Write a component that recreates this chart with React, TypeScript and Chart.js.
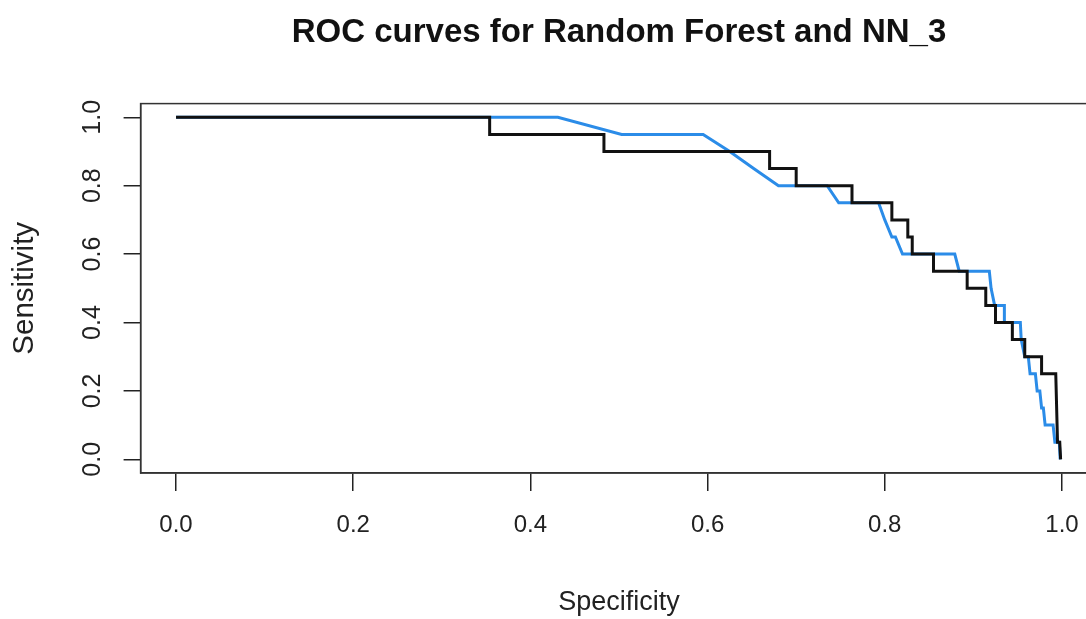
import React, { useEffect, useRef } from 'react';
import { Chart, registerables } from 'chart.js';

Chart.register(...registerables);

const chartTitle = 'ROC curves for Random Forest and NN_3';
const xAxisTitle = 'Specificity';
const yAxisTitle = 'Sensitivity';
const xTickValues = [0, 0.2, 0.4, 0.6, 0.8, 1.0];
const yTickValues = [0, 0.2, 0.4, 0.6, 0.8, 1.0];
const xTickLabels = ['0.0', '0.2', '0.4', '0.6', '0.8', '1.0'];
const yTickLabels = ['0.0', '0.2', '0.4', '0.6', '0.8', '1.0'];

// black curve
const blackSpec = [0, 0.354, 0.354, 0.483, 0.483, 0.67, 0.67, 0.7, 0.7, 0.763, 0.763, 0.808, 0.808, 0.826, 0.826, 0.831, 0.831, 0.855, 0.855, 0.893, 0.893, 0.914, 0.914, 0.925, 0.925, 0.944, 0.944, 0.958, 0.958, 0.977, 0.977, 0.993, 0.995, 0.9975, 0.9985];
const blackSens = [1.0, 1.0, 0.95, 0.95, 0.9, 0.9, 0.85, 0.85, 0.8, 0.8, 0.75, 0.75, 0.7, 0.7, 0.65, 0.65, 0.6, 0.6, 0.55, 0.55, 0.5, 0.5, 0.45, 0.45, 0.4, 0.4, 0.35, 0.35, 0.3, 0.3, 0.25, 0.25, 0.05, 0.05, 0.0];

// blue curve
const blueSpec = [0, 0.431, 0.503, 0.595, 0.625, 0.652, 0.68, 0.735, 0.748, 0.793, 0.8, 0.808, 0.812, 0.82, 0.879, 0.884, 0.918, 0.92, 0.924, 0.935, 0.935, 0.953, 0.954, 0.958, 0.962, 0.964, 0.97, 0.972, 0.975, 0.977, 0.979, 0.981, 0.99, 0.992, 0.997, 0.998];
const blueSens = [1.0, 1.0, 0.95, 0.95, 0.9, 0.85, 0.8, 0.8, 0.75, 0.75, 0.7, 0.65, 0.65, 0.6, 0.6, 0.55, 0.55, 0.5, 0.45, 0.45, 0.4, 0.4, 0.35, 0.3, 0.3, 0.25, 0.25, 0.2, 0.2, 0.15, 0.15, 0.1, 0.1, 0.05, 0.05, 0.0];

const FONT = "'Liberation Sans', Arial, Helvetica, sans-serif";

const boxPlugin = {
  id: 'rBox',
  beforeDatasetsDraw(chart: any) {
    const { ctx, chartArea: a } = chart;
    ctx.save();
    ctx.strokeStyle = '#333';
    ctx.lineWidth = 1.5;
    ctx.strokeRect(a.left, a.top, a.right - a.left, a.bottom - a.top);
    ctx.restore();
  },
};

export default function App() {
  const ref = useRef<HTMLCanvasElement | null>(null);

  useEffect(() => {
    document.body.style.margin = '0';
    const canvas = ref.current;
    if (!canvas) return;
    const chart = new Chart(canvas, {
      type: 'scatter',
      data: {
        datasets: [
          {
            label: 'black',
            data: blackSpec.map((x, i) => ({ x, y: blackSens[i] })),
            showLine: true,
            borderColor: '#111111',
            borderWidth: 3,
            pointRadius: 0,
            tension: 0,
            fill: false,
          },
          {
            label: 'blue',
            data: blueSpec.map((x, i) => ({ x, y: blueSens[i] })),
            showLine: true,
            borderColor: '#2b8ce8',
            borderWidth: 3,
            pointRadius: 0,
            tension: 0,
            fill: false,
          },
        ],
      },
      options: {
        responsive: false,
        animation: false,
        devicePixelRatio: 1,
        layout: { padding: { left: 0, top: 0, right: 12.6, bottom: 0 } },
        plugins: {
          legend: { display: false },
          tooltip: { enabled: false },
          title: {
            display: true,
            text: chartTitle,
            fullSize: false,
            color: '#111',
            font: { family: FONT, size: 33, weight: 'bold' },
            padding: { top: 13.2, bottom: 50.8 },
          },
        },
        scales: {
          x: {
            type: 'linear',
            min: -0.04,
            max: 1.04,
            afterBuildTicks: (s: any) => {
              s.ticks = xTickValues.map((v) => ({ value: v }));
            },
            afterFit: (s: any) => {
              s.height = 146;
            },
            ticks: {
              autoSkip: false,
              minRotation: 0,
              maxRotation: 0,
              padding: 20,
              color: '#222',
              font: { family: FONT, size: 24 },
              callback: (_v: any, i: number) => xTickLabels[i],
            },
            grid: { drawOnChartArea: false, drawTicks: true, tickLength: 18, color: '#222', lineWidth: 1.5 },
            border: { display: true, color: '#333', width: 1.5 },
            title: {
              display: true,
              text: xAxisTitle,
              color: '#222',
              font: { family: FONT, size: 27 },
              padding: { top: 0, bottom: 0 },
            },
          },
          y: {
            type: 'linear',
            min: -0.04,
            max: 1.04,
            afterBuildTicks: (s: any) => {
              s.ticks = yTickValues.map((v) => ({ value: v }));
            },
            afterFit: (s: any) => {
              s.width = 140.6;
            },
            ticks: {
              autoSkip: false,
              minRotation: 90,
              maxRotation: 90,
              crossAlign: 'center',
              padding: 13.2,
              color: '#222',
              font: { family: FONT, size: 25 },
              callback: (_v: any, i: number) => yTickLabels[i],
            },
            grid: { drawOnChartArea: false, drawTicks: true, tickLength: 17, color: '#222', lineWidth: 1.5 },
            border: { display: true, color: '#333', width: 1.5 },
            title: {
              display: true,
              text: yAxisTitle,
              color: '#222',
              font: { family: FONT, size: 29.5 },
              padding: { top: 7.5, bottom: 0 },
            },
          },
        },
      },
      plugins: [boxPlugin],
    } as any);
    return () => chart.destroy();
  }, []);

  return (
    <div style={{ width: 1086, height: 619, overflow: 'hidden', position: 'relative' }}>
      <canvas ref={ref} width={1110} height={619} style={{ display: 'block' }} />
    </div>
  );
}
